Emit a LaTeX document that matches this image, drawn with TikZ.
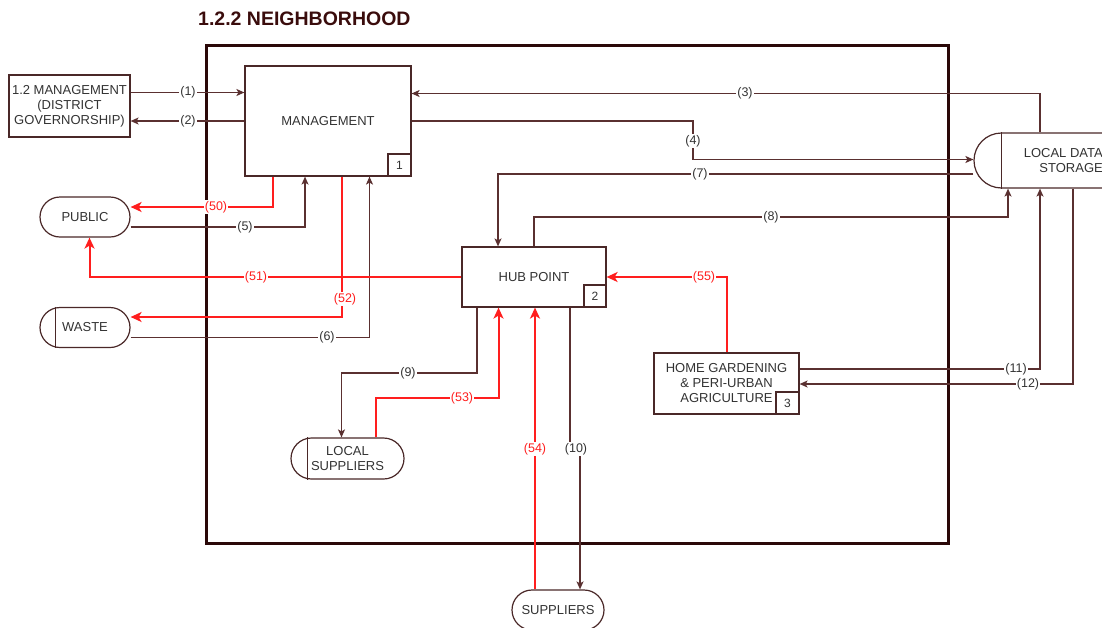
\documentclass[tikz,border=0pt]{standalone}
\usepackage{fontspec}
\setmainfont{Liberation Sans}
\usetikzlibrary{arrows.meta}

\definecolor{wire}{HTML}{5A3030}
\definecolor{edgeclr}{HTML}{4A2828}
\definecolor{frameclr}{HTML}{2A0808}
\definecolor{flow}{HTML}{FF1E1E}
\definecolor{ink}{HTML}{333333}
\definecolor{titleclr}{HTML}{3A0C0C}

\tikzset{
  txt/.style={font=\fontsize{13}{15}\selectfont, text=ink},
  procbox/.style={draw=edgeclr, line width=1.2pt, fill=white, inner sep=0pt, txt, align=center},
  numbox/.style={draw=edgeclr, line width=1.2pt, fill=white, minimum width=23pt,
    minimum height=22pt, inner sep=0pt, font=\fontsize{12}{14}\selectfont, text=ink},
  term/.style={draw=edgeclr, line width=1.2pt, fill=white, rounded corners=20pt,
    minimum width=90pt, minimum height=40pt, inner sep=0pt, txt, align=center},
  flowline/.style={draw=wire, line width=1.3pt, -{Stealth[length=8pt,width=7pt,inset=2pt]}},
  redline/.style={draw=flow, line width=2pt, -{Stealth[length=11pt,width=10pt,inset=3pt]}},
  lbl/.style={fill=white, inner sep=1pt, font=\fontsize{12.5}{14}\selectfont, text=ink},
  redlbl/.style={lbl, text=flow},
}

\begin{document}
\begin{tikzpicture}[x=1pt, y=-1pt]
\useasboundingbox (0,0) rectangle (1102,627);

% title and neighbourhood boundary
\node[font=\bfseries\fontsize{19.5}{22}\selectfont, text=titleclr, anchor=west, inner sep=0pt]
  (title) at (198,19) {1.2.2 NEIGHBORHOOD};
\node[draw=frameclr, line width=3pt, minimum width=741.5pt, minimum height=497.5pt, inner sep=0pt]
  (nbhd) at (577.25,294.25) {};

% processes
\node[procbox, minimum width=121pt, minimum height=62pt] (ext) at (69.5,106)
  {1.2 MANAGEMENT\\(DISTRICT\\GOVERNORSHIP)};
\node[procbox, minimum width=166pt, minimum height=110pt] (mgmt) at (328,121) {MANAGEMENT};
\node[numbox, anchor=south east] (n1) at (mgmt.south east) {1};
\node[procbox, minimum width=144pt, minimum height=60pt] (hub) at (534,277) {HUB POINT};
\node[numbox, minimum width=22pt, anchor=south east] (n2) at (hub.south east) {2};
\node[procbox, minimum width=145pt, minimum height=61pt] (home) at (726.5,383.5)
  {HOME GARDENING\\\& PERI-URBAN\\AGRICULTURE};
\node[numbox, anchor=south east] (n3) at (home.south east) {3};

% external entities
\node[term] (public) at (85,217) {PUBLIC};
\node[term] (waste) at (85,327.5) {WASTE};
\draw[edgeclr, line width=1.2pt] ([xshift=16pt]waste.north west) -- ([xshift=16pt]waste.south west);
\node[term, minimum width=113pt, minimum height=41pt, rounded corners=20.5pt] (locsup) at (347.5,458.5)
  {LOCAL\\SUPPLIERS};
\draw[edgeclr, line width=1.2pt] ([xshift=17pt]locsup.north west) -- ([xshift=17pt]locsup.south west);
\node[term, minimum width=92pt] (sup) at (558,610) {SUPPLIERS};

% data store
\node[draw=edgeclr, line width=1.2pt, fill=white, rounded corners=27.5pt, minimum width=186pt,
  minimum height=55pt, inner sep=0pt] (lds) at (1067,160.5) {};
\draw[edgeclr, line width=1.2pt] ([xshift=28pt]lds.north west) -- ([xshift=28pt]lds.south west);
\node[txt, align=right, anchor=east, inner sep=0pt] (ldstext) at (1103,161) {LOCAL DATA\\STORAGE};

% information flows
\draw[flowline] (ext.east |- 0,92.5) -- (mgmt.west |- 0,92.5);
\draw[flowline] (mgmt.west |- 0,121) -- (ext.east |- 0,121);
\draw[flowline] (lds.north -| 1040,0) |- (mgmt.east |- 0,93.5);
\draw[flowline] (mgmt.east |- 0,121) -- (693,121) -- (693,159.5) -- (lds.west |- 0,159.5);
\draw[flowline] (lds.west |- 0,174) -| (hub.north -| 498,0);
\draw[flowline] (hub.north -| 534,0) -- (534,217) -| (lds.south -| 1008,0);
\draw[flowline] (public.east |- 0,227) -| (mgmt.south -| 305,0);
\draw[flowline] (waste.east |- 0,337.5) -| (mgmt.south -| 369.5,0);
\draw[flowline] (hub.south -| 477,0) -- (477,373) -| (locsup.north -| 341.5,0);
\draw[flowline] (hub.south -| 570,0) -- (570,449) -- (580,449) -- (sup.north -| 580,0);
\draw[flowline] (home.east |- 0,369) -| (lds.south -| 1040,0);
\draw[flowline] (lds.south -| 1073,0) |- (home.east |- 0,384);

% material flows
\draw[redline] (mgmt.south -| 273,0) |- (public.east |- 0,207);
\draw[redline] (hub.west) -| (public.south -| 89.5,0);
\draw[redline] (mgmt.south -| 341.5,0) |- (waste.east |- 0,317);
\draw[redline] (locsup.north -| 375.5,0) -- (375.5,398) -| (hub.south -| 498.5,0);
\draw[redline] (sup.north -| 535,0) -- (hub.south -| 535,0);
\draw[redline] (home.north) |- (hub.east);

% flow labels
\node[lbl] (l1) at (188,92.5) {(1)};
\node[lbl] (l2) at (188,121) {(2)};
\node[lbl] (l3) at (745,93.5) {(3)};
\node[lbl] (l4) at (693,141) {(4)};
\node[lbl] (l5) at (245,227) {(5)};
\node[lbl] (l6) at (327,337.5) {(6)};
\node[lbl] (l7) at (700,174) {(7)};
\node[lbl] (l8) at (771,217) {(8)};
\node[lbl] (l9) at (408,373) {(9)};
\node[lbl] (l10) at (576,449) {(10)};
\node[lbl] (l11) at (1016,369) {(11)};
\node[lbl] (l12) at (1028,384) {(12)};
\node[redlbl] (l50) at (216,207) {(50)};
\node[redlbl] (l51) at (256,277.5) {(51)};
\node[redlbl] (l52) at (345,299) {(52)};
\node[redlbl] (l53) at (462,398) {(53)};
\node[redlbl] (l54) at (535,449) {(54)};
\node[redlbl] (l55) at (704,277) {(55)};
\end{tikzpicture}
\end{document}
